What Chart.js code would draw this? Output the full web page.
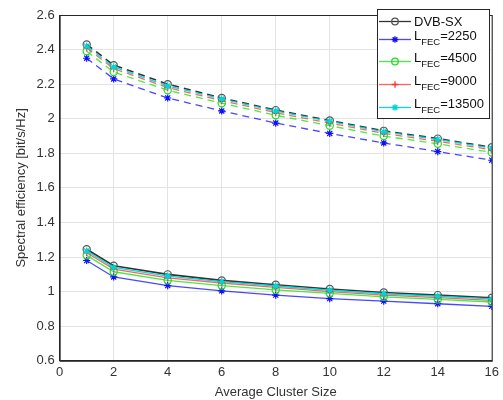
<!DOCTYPE html>
<html>
<head>
<meta charset="utf-8">
<script src="https://cdn.jsdelivr.net/npm/chart.js@4/dist/chart.umd.min.js"></script>
<style>
  html, body { margin: 0; padding: 0; background: #fff; }
  #wrap { width: 503px; height: 400px; }
</style>
</head>
<body>
<div id="wrap"><canvas id="chart" width="503" height="400"></canvas></div>
<script>
// average cluster size on the x axis
const clusterSizes = [1, 2, 4, 6, 8, 10, 12, 14, 16];

// upper group (dashed)
const dvbsxUpper = [2.43, 2.31, 2.20, 2.12, 2.05, 1.99, 1.93, 1.885, 1.835];
const fec2250Upper = [2.35, 2.23, 2.12, 2.045, 1.975, 1.915, 1.86, 1.81, 1.76];
const fec4500Upper = [2.39, 2.27, 2.165, 2.09, 2.02, 1.96, 1.90, 1.855, 1.805];
const fec9000Upper = [2.41, 2.29, 2.18, 2.105, 2.035, 1.975, 1.915, 1.87, 1.82];
const fec13500Upper = [2.42, 2.30, 2.19, 2.115, 2.045, 1.985, 1.925, 1.88, 1.83];

// lower group (solid)
const dvbsxLower = [1.245, 1.15, 1.10, 1.065, 1.04, 1.015, 0.995, 0.98, 0.965];
const fec2250Lower = [1.18, 1.085, 1.035, 1.005, 0.98, 0.96, 0.945, 0.93, 0.915];
const fec4500Lower = [1.21, 1.115, 1.065, 1.035, 1.01, 0.99, 0.97, 0.955, 0.94];
const fec9000Lower = [1.225, 1.13, 1.08, 1.05, 1.025, 1.0, 0.98, 0.965, 0.95];
const fec13500Lower = [1.235, 1.14, 1.09, 1.058, 1.033, 1.008, 0.988, 0.973, 0.958];

const seriesNames = ['DVB-SX', 'LFEC=2250', 'LFEC=4500', 'LFEC=9000', 'LFEC=13500'];

const FONT = '"Liberation Sans", Arial, sans-serif';

const styles = [
    { line: '#333333', point: 'circle', pointColor: '#555555', fill: 'rgba(255,255,255,0)' },
    { line: 'rgba(40,40,255,0.85)', point: 'star', pointColor: '#1010ff', fill: '#1010ff' },
    { line: 'rgba(40,230,40,0.85)', point: 'circle', pointColor: '#22dd22', fill: 'rgba(255,255,255,0)' },
    { line: 'rgba(255,70,70,0.85)', point: 'cross', pointColor: '#ff3030', fill: '#ff3030' },
    { line: 'rgba(0,215,215,0.95)', point: 'star', pointColor: '#00d5d5', fill: '#00d5d5' }
];

function toXY(values) {
    return values.map((v, i) => ({ x: clusterSizes[i], y: v }));
}

function makeSet(name, values, idx, dashed) {
    const s = styles[idx];
    return {
        label: name,
        data: toXY(values),
        borderColor: s.line,
        borderWidth: idx === 0 ? 1.6 : (idx === 4 ? 1.4 : 1.3),
        borderDash: dashed ? [7, 5] : [],
        pointStyle: s.point,
        pointRadius: 3.6,
        pointBorderWidth: 1.2,
        pointBorderColor: s.pointColor,
        pointBackgroundColor: s.fill,
        fill: false,
        tension: 0,
        order: 10 - idx
    };
}

const upper = [dvbsxUpper, fec2250Upper, fec4500Upper, fec9000Upper, fec13500Upper];
const lower = [dvbsxLower, fec2250Lower, fec4500Lower, fec9000Lower, fec13500Lower];

const datasets = [];
for (let i = 0; i < 5; i++) {
    datasets.push(makeSet(seriesNames[i], upper[i], i, true));
    datasets.push(makeSet(seriesNames[i], lower[i], i, false));
}

// box around plot + custom legend with subscripts
const boxAndLegend = {
    id: 'boxAndLegend',
    afterDraw(chart) {
        const ctx = chart.ctx;
        const a = chart.chartArea;
        ctx.save();
        ctx.strokeStyle = '#262626';
        ctx.lineWidth = 1;
        ctx.strokeRect(a.left + 0.5, a.top + 0.5, a.right - a.left, a.bottom - a.top);

        // legend box
        const lx = 377, ly = 9, lw = 112, lh = 109;
        ctx.fillStyle = '#fff';
        ctx.fillRect(lx, ly, lw, lh);
        ctx.strokeStyle = '#262626';
        ctx.strokeRect(lx + 0.5, ly + 0.5, lw, lh);

        const rows = [21, 39, 61, 84, 107];
        rows.forEach((ry, i) => {
            const s = styles[i];
            ctx.strokeStyle = s.line;
            ctx.lineWidth = 1.3;
            ctx.setLineDash([]);
            ctx.beginPath();
            ctx.moveTo(379, ry + 0.5);
            ctx.lineTo(411, ry + 0.5);
            ctx.stroke();
            ctx.strokeStyle = s.pointColor;
            ctx.fillStyle = s.fill;
            Chart.helpers.drawPoint(ctx, { pointStyle: s.point, radius: 3.3, borderWidth: 1.2 }, 395, ry + 0.5);

            ctx.fillStyle = '#111';
            ctx.textBaseline = 'alphabetic';
            if (i === 0) {
                ctx.font = '13px ' + FONT;
                ctx.fillText('DVB-SX', 414, ry + 5);
            } else {
                const val = seriesNames[i].split('=')[1];
                ctx.font = '13px ' + FONT;
                ctx.fillText('L', 414, ry + 1);
                const w1 = ctx.measureText('L').width;
                ctx.font = '9.5px ' + FONT;
                ctx.fillText('FEC', 414 + w1, ry + 6);
                const w2 = ctx.measureText('FEC').width;
                ctx.font = '13px ' + FONT;
                ctx.fillText('=' + val, 414 + w1 + w2, ry + 1);
            }
        });
        ctx.restore();
    }
};

new Chart(document.getElementById('chart'), {
    type: 'line',
    data: { datasets: datasets },
    options: {
        responsive: false,
        animation: false,
        layout: { padding: { top: 15, right: 8, left: 14, bottom: 0 } },
        plugins: {
            legend: { display: false },
            tooltip: { enabled: false }
        },
        scales: {
            x: {
                type: 'linear',
                min: 0,
                max: 16,
                ticks: { stepSize: 2, color: '#333', font: { family: FONT, size: 13 }, padding: 4 },
                grid: { color: '#e3e3e3', drawTicks: false },
                border: { color: '#262626' },
                title: { display: true, text: 'Average Cluster Size', color: '#333', font: { family: FONT, size: 13 }, padding: { top: 0, bottom: 0 } }
            },
            y: {
                min: 0.6,
                max: 2.6,
                ticks: {
                    stepSize: 0.2,
                    color: '#333',
                    font: { family: FONT, size: 13 },
                    padding: 5,
                    callback: v => String(Math.round(v * 10) / 10)
                },
                grid: { color: '#e3e3e3', drawTicks: false },
                border: { color: '#262626' },
                title: { display: true, text: 'Spectral efficiency [bit/s/Hz]', color: '#333', font: { family: FONT, size: 13 }, padding: { top: 0, bottom: 2 } }
            }
        }
    },
    plugins: [boxAndLegend]
});
</script>
</body>
</html>
